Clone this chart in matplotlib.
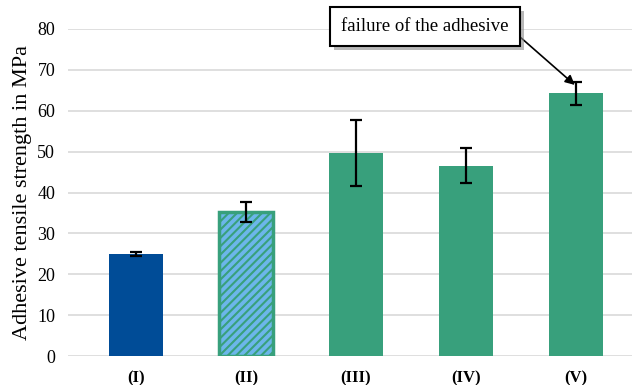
import matplotlib.pyplot as plt
import matplotlib.patheffects as pe
import numpy as np

plt.rcParams['font.family'] = ['Liberation Serif', 'DejaVu Serif']
plt.rcParams['hatch.linewidth'] = 1.5

categories = ['(I)', '(II)', '(III)', '(IV)', '(V)']
strength = [25.0, 35.2, 49.7, 46.6, 64.3]
errors = [0.5, 2.4, 8.0, 4.3, 2.8]
colors = ['#004c97', '#6cb6ea', '#38a07c', '#38a07c', '#38a07c']

fig = plt.figure(figsize=(6.39, 3.85), dpi=100)
ax = fig.add_axes([0.106, 0.075, 0.883, 0.85])

x = np.arange(len(categories))
bars = ax.bar(x, strength, width=0.49, color=colors, zorder=2)

# second bar is hatched with a green outline
bars[1].set_edgecolor('#38a07c')
bars[1].set_hatch('////')
bars[1].set_linewidth(2.5)

ax.errorbar(x, strength, yerr=errors, fmt='none', ecolor='black',
            elinewidth=1.6, capsize=4, capthick=1.6, zorder=3)

ax.set_ylim(0, 80)
ax.set_xlim(-0.62, 4.51)
ax.set_yticks(range(0, 81, 10))
ax.yaxis.grid(True, color='#d9d9d9', linewidth=1.2, zorder=0)
ax.set_axisbelow(True)
for s in ax.spines.values():
    s.set_visible(False)
ax.tick_params(axis='both', length=0, labelsize=13)
ax.tick_params(axis='y', pad=9)
ax.tick_params(axis='x', pad=10)
ax.set_xticks(x)
ax.set_xticklabels(categories, fontweight='bold', fontsize=12)
ax.set_ylabel('Adhesive tensile strength in MPa', fontsize=16, labelpad=4)

# callout box with a soft drop shadow
ann = ax.annotate('failure of the adhesive', xy=(3.99, 66.3), xytext=(2.63, 80.6),
                  fontsize=13.5, ha='center', va='center', annotation_clip=False,
                  zorder=5,
                  bbox=dict(boxstyle='square,pad=0.6', fc='white', ec='black', lw=1.5),
                  arrowprops=dict(arrowstyle='-|>', color='black', lw=1.2,
                                  mutation_scale=14,
                                  relpos=(1.0, 0.45), shrinkA=0, shrinkB=0))
ann.get_bbox_patch().set_path_effects([
    pe.SimplePatchShadow(offset=(3, -3), shadow_rgbFace='#8a8a8a', alpha=0.6),
    pe.Normal()])

fig.savefig('out.png', dpi=100)
